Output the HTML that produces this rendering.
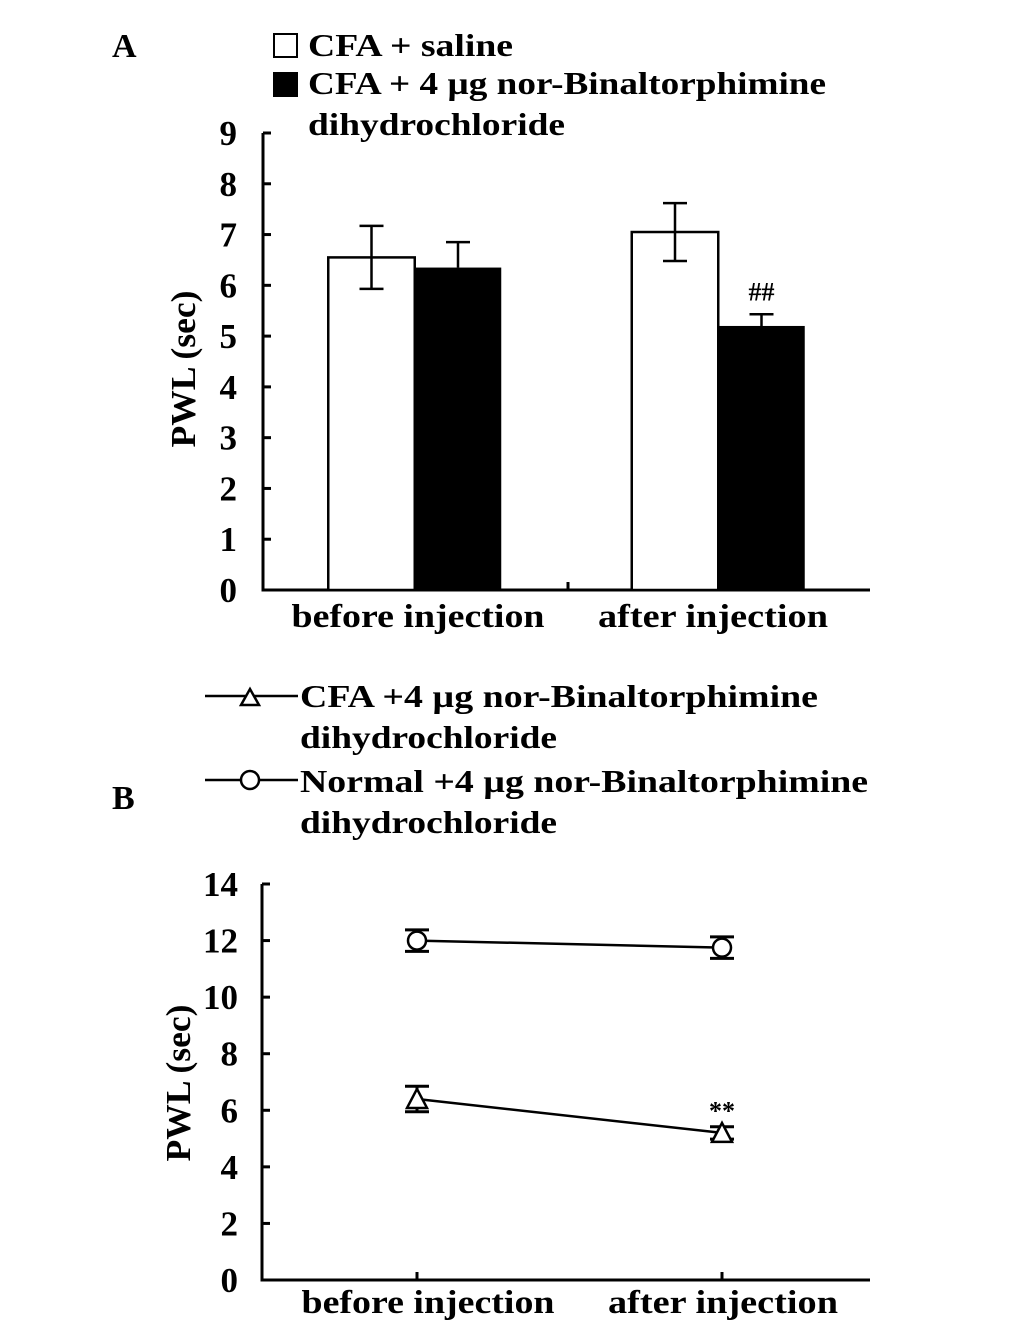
<!DOCTYPE html>
<html><head><meta charset="utf-8"><style>
html,body{margin:0;padding:0;background:#fff}
svg{display:block}
text{font-family:"Liberation Serif",serif;font-weight:bold;fill:#000}
</style></head><body>
<svg id="fig" width="1033" height="1322" viewBox="0 0 1033 1322" xmlns="http://www.w3.org/2000/svg">
<text x="112" y="57" font-size="34">A</text>
<text x="112" y="809" font-size="34">B</text>
<g>
<rect x="274" y="34" width="23" height="23" fill="#fff" stroke="#000" stroke-width="2"/>
<text x="308" y="56" font-size="32" textLength="205" lengthAdjust="spacingAndGlyphs">CFA + saline</text>
<rect x="273" y="72" width="25" height="25" fill="#000"/>
<text x="308" y="94" font-size="32" textLength="518" lengthAdjust="spacingAndGlyphs">CFA + 4 µg nor-Binaltorphimine</text>
<text x="308" y="135" font-size="32" textLength="257" lengthAdjust="spacingAndGlyphs">dihydrochloride</text>
</g>
<g id="chartA"></g>
<g>
<line x1="205" y1="696" x2="298" y2="696" stroke="#000" stroke-width="2.5"/>
<polygon points="241,705 259,705 250,689" fill="#fff" stroke="#000" stroke-width="2.5"/>
<text x="300" y="707" font-size="32" textLength="518" lengthAdjust="spacingAndGlyphs">CFA +4 µg nor-Binaltorphimine</text>
<text x="300" y="748" font-size="32" textLength="257" lengthAdjust="spacingAndGlyphs">dihydrochloride</text>
<line x1="205" y1="780" x2="298" y2="780" stroke="#000" stroke-width="2.5"/>
<circle cx="250" cy="780" r="9" fill="#fff" stroke="#000" stroke-width="2.5"/>
<text x="300" y="792" font-size="32" textLength="568" lengthAdjust="spacingAndGlyphs">Normal +4 µg nor-Binaltorphimine</text>
<text x="300" y="833" font-size="32" textLength="257" lengthAdjust="spacingAndGlyphs">dihydrochloride</text>
</g>
<g id="chartB"></g>
</svg>
<script>
const categories = ["before injection", "after injection"];
const salineValues = [6.55, 7.05];
const salineErrors = [0.62, 0.57];
const norbniValues = [6.35, 5.2];
const norbniErrors = [0.5, 0.23];
const yTicksA = [0,1,2,3,4,5,6,7,8,9];
const cfaValues = [6.4, 5.2];
const cfaErrors = [0.45, 0.22];
const normalValues = [12.0, 11.75];
const normalErrors = [0.38, 0.38];
const yTicksB = [0,2,4,6,8,10,12,14];

const NS = "http://www.w3.org/2000/svg";
function mk(parent, tag, attrs, text){
  const e = document.createElementNS(NS, tag);
  for (const k in attrs) e.setAttribute(k, attrs[k]);
  if (text !== undefined) e.textContent = text;
  parent.appendChild(e);
  return e;
}

// ---- Chart A ----
const gA = document.getElementById('chartA');
const yA = v => 590 - v * (457 / 9);
const groupA = i => 263 + (i + 0.5) * 303.5;
let ax = mk(gA, 'path', {d:'M263,133 V590 H870 M263,133 H271 M568,590 V582', stroke:'#000', 'stroke-width':3, fill:'none'});


yTicksA.forEach(t => {
  const y = yA(t);
  const tk = mk(gA, 'line', {x1:263, x2:271, y1:y, y2:y, stroke:'#000', 'stroke-width':3});
  
  
  const lb = mk(gA, 'text', {x:237, y:y + 12, 'font-size':35, 'text-anchor':'end'}, t);
  
  
});
const ttlA = mk(gA, 'text', {x:0, y:0, 'font-size':35, 'text-anchor':'middle', transform:'translate(195,369) rotate(-90)', textLength:157, lengthAdjust:'spacingAndGlyphs'}, 'PWL (sec)');


const barW = 86.5;
const xLabelCentersA = [418, 713];
categories.forEach((c, i) => {
  const cx = groupA(i);
  const xs = cx - barW, xb = cx;
  const b1 = mk(gA, 'rect', {x:xs, y:yA(salineValues[i]), width:barW, height:590 - yA(salineValues[i]), fill:'#fff', stroke:'#000', 'stroke-width':2.5});
  
  
  const e1x = xs + barW / 2;
  const e1 = mk(gA, 'path', {d:`M${e1x},${yA(salineValues[i]+salineErrors[i])} V${yA(salineValues[i]-salineErrors[i])} M${e1x-12},${yA(salineValues[i]+salineErrors[i])} h24 M${e1x-12},${yA(salineValues[i]-salineErrors[i])} h24`, stroke:'#000', 'stroke-width':2.5, fill:'none'});
  
  
  const b2 = mk(gA, 'rect', {x:xb, y:yA(norbniValues[i]), width:barW, height:590 - yA(norbniValues[i]), fill:'#000'});
  
  
  const e2x = xb + barW / 2;
  const e2 = mk(gA, 'path', {d:`M${e2x},${yA(norbniValues[i]+norbniErrors[i])} V${yA(norbniValues[i])} M${e2x-12},${yA(norbniValues[i]+norbniErrors[i])} h24`, stroke:'#000', 'stroke-width':2.5, fill:'none'});
  
  
  const xl = mk(gA, 'text', {x:xLabelCentersA[i], y:627, 'font-size':33, 'text-anchor':'middle', textLength: i === 0 ? 253 : 230, lengthAdjust:'spacingAndGlyphs'}, c);
  
  
});
const hh = mk(gA, 'text', {x:groupA(1) + barW/2, y:yA(norbniValues[1]+norbniErrors[1]) - 14, 'font-size':26, 'font-weight':'normal', 'text-anchor':'middle'}, '##');



// ---- Chart B ----
const gB = document.getElementById('chartB');
const yB = v => 1280 - v * (396 / 14);
const xB = i => 417 + i * 305;
const axB = mk(gB, 'path', {d:'M262,884 V1280 H870', stroke:'#000', 'stroke-width':3, fill:'none'});


yTicksB.forEach(t => {
  const y = yB(t);
  const tk = mk(gB, 'line', {x1:262, x2:270, y1:y, y2:y, stroke:'#000', 'stroke-width':3});
  
  
  const lb = mk(gB, 'text', {x:238, y:y + 12, 'font-size':35, 'text-anchor':'end'}, t);
  
  
});
const ttlB = mk(gB, 'text', {x:0, y:0, 'font-size':35, 'text-anchor':'middle', transform:'translate(190,1083) rotate(-90)', textLength:157, lengthAdjust:'spacingAndGlyphs'}, 'PWL (sec)');


const xLabelCentersB = [428, 723];
categories.forEach((c, i) => {
  const tk = mk(gB, 'line', {x1:xB(i), x2:xB(i), y1:1280, y2:1272, stroke:'#000', 'stroke-width':3});
  
  
  const xl = mk(gB, 'text', {x:xLabelCentersB[i], y:1313, 'font-size':33, 'text-anchor':'middle', textLength: i === 0 ? 253 : 230, lengthAdjust:'spacingAndGlyphs'}, c);
  
  
});
function series(vals, errs, marker, name){
  const ln = mk(gB, 'polyline', {points: vals.map((v, i) => `${xB(i)},${yB(v)}`).join(' '), stroke:'#000', 'stroke-width':2.5, fill:'none'});
  
  
  vals.forEach((v, i) => {
    const x = xB(i), t = yB(v + errs[i]), b = yB(v - errs[i]);
    const eb = mk(gB, 'path', {d:`M${x},${t} V${b} M${x-12},${t} h24 M${x-12},${b} h24`, stroke:'#000', 'stroke-width':3, fill:'none'});
    
    
    let m;
    if (marker === 'circle') {
      m = mk(gB, 'circle', {cx:x, cy:yB(v), r:9, fill:'#fff', stroke:'#000', 'stroke-width':2.5});
    } else {
      const y = yB(v);
      m = mk(gB, 'polygon', {points:`${x-10},${y+9} ${x+10},${y+9} ${x},${y-10}`, fill:'#fff', stroke:'#000', 'stroke-width':2.5});
    }
    
    
  });
}
series(normalValues, normalErrors, 'circle', 'normal');
series(cfaValues, cfaErrors, 'triangle', 'cfa');
const st = mk(gB, 'text', {x:xB(1), y:yB(cfaValues[1] + cfaErrors[1]) - 7, 'font-size':26, 'text-anchor':'middle'}, '**');


</script>
</body></html>
